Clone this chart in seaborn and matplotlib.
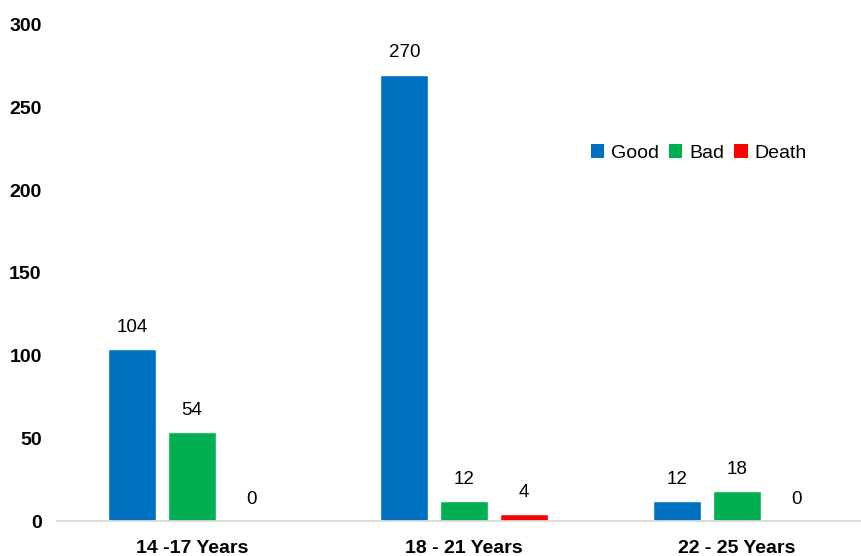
import matplotlib
matplotlib.use("Agg")
import matplotlib.pyplot as plt
import seaborn as sns
import pandas as pd
from matplotlib.patches import Patch

# Outcome counts by age group
age_groups = ["14 -17 Years", "18 - 21 Years", "22 - 25 Years"]
outcomes = ["Good", "Bad", "Death"]
good = [104, 270, 12]
bad = [54, 12, 18]
death = [0, 4, 0]
outcome_colors = ["#0070C0", "#00B050", "#FF0000"]

df = pd.DataFrame({
    "age": age_groups * 3,
    "outcome": [o for o in outcomes for _ in age_groups],
    "count": good + bad + death,
})

sns.set_theme(style="white")
plt.rcParams["font.family"] = ["Liberation Sans", "DejaVu Sans"]
plt.rcParams["text.color"] = "#000000"

fig = plt.figure(figsize=(8.61, 5.56), dpi=100)
ax = fig.add_axes([57 / 861, 1 - 521 / 556, 1 - 57 / 861, (521 - 25) / 556])

sns.barplot(
    data=df, x="age", y="count", hue="outcome",
    order=age_groups, hue_order=outcomes,
    palette=outcome_colors, width=0.66, gap=0.2,
    errorbar=None, saturation=1, ax=ax, legend=False,
)

for container in ax.containers:
    ax.bar_label(container, fmt="%d", padding=9.5, fontsize=13.5, color="#000000")

ax.set_ylim(0, 300)
ax.set_xlim(-0.496, 2.457)
ax.set_yticks(range(0, 301, 50))
ax.set_xlabel("")
ax.set_ylabel("")

for side in ["left", "right", "top"]:
    ax.spines[side].set_visible(False)
ax.spines["bottom"].set_color("#D9D9D9")
ax.spines["bottom"].set_linewidth(1.3)

ax.tick_params(axis="both", length=0)
ax.tick_params(axis="y", pad=11, labelsize=14)
ax.tick_params(axis="x", pad=14, labelsize=14)
for lbl in ax.get_xticklabels() + ax.get_yticklabels():
    lbl.set_fontweight("bold")
    lbl.set_color("#000000")

handles = [Patch(facecolor=c, edgecolor="none") for c in outcome_colors]
leg = ax.legend(
    handles, outcomes, loc="center", bbox_to_anchor=(0.798, 0.742),
    ncol=3, frameon=False, fontsize=14, handlelength=0.7, handleheight=0.7,
    handletextpad=0.35, columnspacing=0.5,
)
for t in leg.get_texts():
    t.set_color("#000000")

fig.savefig("out.png", dpi=100)
